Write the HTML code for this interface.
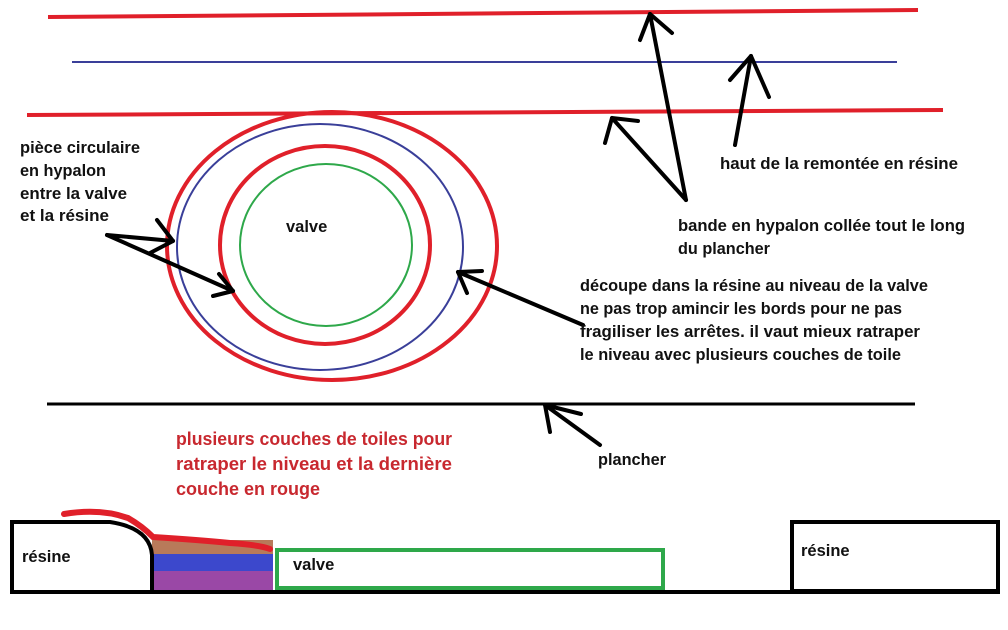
<!DOCTYPE html>
<html><head><meta charset="utf-8"><style>
html,body{margin:0;padding:0;background:#fff;}
svg{display:block;}
text{font-family:"Liberation Sans",sans-serif;font-weight:bold;font-size:16.5px;fill:#111;}
.r{fill:#c8282f;font-size:18px;}
</style></head><body>
<svg width="1008" height="630" viewBox="0 0 1008 630" xmlns="http://www.w3.org/2000/svg">
<rect width="1008" height="630" fill="#fff"/>
<line x1="48" y1="17" x2="918" y2="10" stroke="#e0202a" stroke-width="4"/>
<line x1="72" y1="62" x2="897" y2="62" stroke="#3a3f99" stroke-width="2"/>
<line x1="27" y1="115" x2="943" y2="110" stroke="#e0202a" stroke-width="4"/>
<line x1="47" y1="404" x2="915" y2="404" stroke="#000" stroke-width="3"/>
<ellipse cx="332" cy="246" rx="165" ry="134" fill="none" stroke="#e0202a" stroke-width="4"/>
<ellipse cx="320" cy="247" rx="143" ry="123" fill="none" stroke="#3a3f99" stroke-width="2"/>
<ellipse cx="325" cy="245" rx="105" ry="99" fill="none" stroke="#e0202a" stroke-width="4"/>
<ellipse cx="326" cy="245" rx="86" ry="81" fill="none" stroke="#2ea84a" stroke-width="2"/>
<g stroke="#000" stroke-width="4" fill="none" stroke-linecap="round" stroke-linejoin="round">
<polyline points="107,235 173,241 150,253"/>
<polyline points="107,235 233,291"/>
<polyline points="157,220 173,241"/>
<polyline points="219,274 233,291 213,296"/>
<polyline points="686,200 650,14"/>
<polyline points="640,40 650,14 672,33"/>
<polyline points="686,200 612,118"/>
<polyline points="605,143 612,118 638,121"/>
<polyline points="735,145 751,56"/>
<polyline points="730,80 751,56 769,97"/>
<polyline points="583,325 458,272"/>
<polyline points="467,293 458,272 482,271"/>
<polyline points="600,445 545,405"/>
<polyline points="550,432 545,405 581,414"/>
</g>
<g lengthAdjust="spacingAndGlyphs">
<text x="20" y="153" textLength="120" lengthAdjust="spacingAndGlyphs">pièce circulaire</text>
<text x="20" y="176" textLength="86" lengthAdjust="spacingAndGlyphs">en hypalon</text>
<text x="20" y="199" textLength="107" lengthAdjust="spacingAndGlyphs">entre la valve</text>
<text x="20" y="221" textLength="89" lengthAdjust="spacingAndGlyphs">et la résine</text>
<text x="286" y="232">valve</text>
<text x="720" y="169" textLength="238" lengthAdjust="spacingAndGlyphs">haut de la remontée en résine</text>
<text x="678" y="231" textLength="287" lengthAdjust="spacingAndGlyphs">bande en hypalon collée tout le long</text>
<text x="678" y="254" textLength="92" lengthAdjust="spacingAndGlyphs">du plancher</text>
<text x="580" y="291" textLength="348" lengthAdjust="spacingAndGlyphs">découpe dans la résine au niveau de la valve</text>
<text x="580" y="314" textLength="322" lengthAdjust="spacingAndGlyphs">ne pas trop amincir les bords pour ne pas</text>
<text x="580" y="337" textLength="340" lengthAdjust="spacingAndGlyphs">fragiliser les arrêtes. il vaut mieux ratraper</text>
<text x="580" y="360" textLength="321" lengthAdjust="spacingAndGlyphs">le niveau avec plusieurs couches de toile</text>
<text x="598" y="465" textLength="68" lengthAdjust="spacingAndGlyphs">plancher</text>
<text class="r" x="176" y="445" textLength="276" lengthAdjust="spacingAndGlyphs">plusieurs couches de toiles pour</text>
<text class="r" x="176" y="470" textLength="276" lengthAdjust="spacingAndGlyphs">ratraper le niveau et la dernière</text>
<text class="r" x="176" y="495" textLength="144" lengthAdjust="spacingAndGlyphs">couche en rouge</text>
</g>
<rect x="152" y="540" width="121" height="14" fill="#b87a5a"/>
<rect x="152" y="554" width="121" height="17" fill="#3c48cc"/>
<rect x="152" y="571" width="121" height="20" fill="#9a48a6"/>
<path d="M12,591 L12,522 L110,522 Q150,528 152,555 L152,591" fill="none" stroke="#000" stroke-width="4"/>
<path d="M64,514 Q100,508 128,518 Q142,526 153,537 Q200,540 230,543 Q260,545 270,549" fill="none" stroke="#e0202a" stroke-width="6" stroke-linecap="round"/>
<rect x="277" y="550" width="386" height="38" fill="none" stroke="#2ea84a" stroke-width="4"/>
<rect x="792" y="522" width="206" height="69" fill="none" stroke="#000" stroke-width="4"/>
<line x1="10" y1="592" x2="1000" y2="592" stroke="#000" stroke-width="4"/>
<text x="22" y="562" font-size="17.5">résine</text>
<text x="293" y="570" font-size="17.5">valve</text>
<text x="801" y="556" font-size="17.5">résine</text>
</svg>
</body></html>
